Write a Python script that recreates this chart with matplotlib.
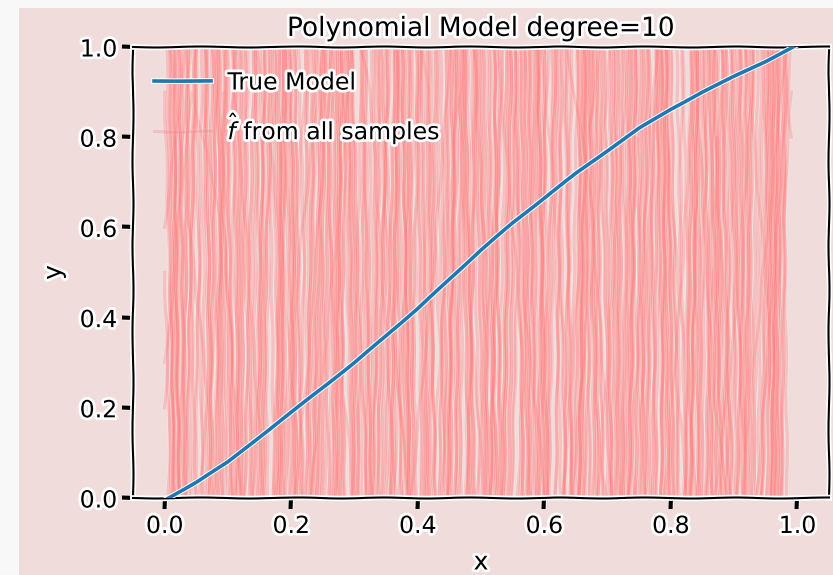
import numpy as np
import matplotlib
matplotlib.use("Agg")
import matplotlib.pyplot as plt
from matplotlib.patches import Rectangle
import matplotlib.patheffects as pe

# ---------------- data ----------------
true_x = [0.0, 0.05, 0.1, 0.15, 0.2, 0.25, 0.3, 0.35, 0.4, 0.45, 0.5,
          0.55, 0.6, 0.65, 0.7, 0.75, 0.8, 0.85, 0.9, 0.95, 1.0]
true_y = [-0.005, 0.035, 0.08, 0.135, 0.19, 0.245, 0.30, 0.36, 0.42, 0.485, 0.55,
          0.61, 0.665, 0.72, 0.77, 0.82, 0.862, 0.90, 0.935, 0.968, 1.005]

# sample fits: values at a common x grid, each fit read with its own small x shift
red_x = np.linspace(0.0, 0.99, 21)
red_shift = [0.0, 0.012, -0.012, 0.024, -0.024, 0.006, -0.018, 0.018, -0.006, 0.021,
             -0.021, 0.003, 0.015, -0.015, 0.009, -0.009, 0.024, -0.003, 0.012, -0.024,
             0.0, 0.018, -0.012, 0.006, -0.018, 0.021, -0.006, 0.003, -0.021, 0.015]
red_curves = [
    [3.2,-1.8,2.5,-2.9,1.7,-0.9,2.8,-1.6,3.5,-2.2,1.4,-2.6,2.1,-1.1,3.0,-2.4,1.8,-3.1,2.6,-1.3,4.2],
    [-2.5,3.1,-1.2,2.4,-2.8,1.9,-1.7,2.2,-0.7,3.3,-2.1,1.6,-3.0,2.7,-1.5,2.0,-2.6,3.4,-1.0,2.9,-3.6],
    [1.9,-2.7,3.6,-1.4,2.0,-2.3,1.5,-3.2,2.6,-1.8,2.9,-0.8,1.7,-2.5,3.1,-1.7,2.4,-1.2,3.2,-2.8,2.3],
    [-1.6,2.2,-3.3,1.8,-1.1,3.0,-2.4,1.3,-2.7,2.1,-1.5,3.5,-1.9,1.5,-2.2,3.3,-0.9,2.5,-2.3,1.7,-2.9],
    [4.5,-0.6,1.2,2.9,-2.1,-0.4,2.3,-1.9,1.6,-2.8,2.5,0.2,-1.7,2.6,-2.9,1.1,-1.4,2.8,-2.0,3.1,-1.8],
    [-3.4,1.4,-0.5,-2.2,2.7,-1.3,1.8,-2.6,0.9,2.4,-1.1,2.9,-2.3,-0.3,1.9,-2.7,2.2,-0.7,1.5,-2.4,3.8],
    [2.6,-3.0,1.1,-1.7,3.4,-2.5,0.8,2.1,-1.4,-2.9,1.7,-0.6,2.8,-1.8,1.3,-2.2,3.3,-2.8,0.6,2.7,-2.1],
    [-0.8,1.7,-2.4,3.1,-0.9,1.6,-3.1,2.7,-1.3,1.9,-2.4,1.0,3.2,-1.6,-2.3,2.5,-1.3,1.9,-3.0,2.2,1.2],
    [0.3,0.9,0.6,-0.4,0.2,1.4,0.8,-0.5,0.7,1.6,0.3,-0.6,0.9,1.5,0.1,-0.3,1.2,1.7,0.4,-0.8,1.3],
    [1.1,0.2,-0.5,0.8,1.5,0.4,-0.2,1.3,0.9,-0.6,0.5,1.4,0.7,-0.4,0.6,1.6,0.2,-0.5,1.1,0.3,0.9],
    [-2.2,2.8,-1.5,0.7,3.6,-2.0,2.3,-0.8,-2.5,1.6,3.0,-1.4,2.1,-3.2,1.4,-0.5,2.6,-1.9,2.9,-2.7,1.6],
    [3.8,-2.4,1.6,-3.5,2.0,0.5,-1.8,3.1,-2.9,1.2,-1.6,2.4,-0.4,3.5,-1.2,2.7,-3.0,1.3,-1.7,2.0,-3.9],
    [-1.2,3.3,-2.6,1.4,-0.6,2.5,-3.3,1.9,2.4,-1.3,2.2,-2.9,1.5,-1.6,-0.4,3.2,-2.1,1.8,-0.9,3.5,-2.6],
    [2.1,-1.0,-2.8,2.3,-1.5,3.2,-1.1,-0.3,2.9,-2.6,1.5,-1.3,3.1,-2.0,2.2,-1.6,1.0,-2.5,3.0,-1.1,2.8],
    [0.5,-2.1,1.8,-1.3,2.6,-2.7,3.4,-1.6,1.1,-3.4,2.6,-2.2,0.9,1.8,-2.8,2.0,-1.7,2.6,-2.2,1.4,-1.5],
    [-3.0,1.2,2.7,-1.9,1.0,-1.7,1.6,-2.4,3.3,-0.7,-2.0,2.8,-1.5,2.3,-1.3,3.0,-2.4,-0.6,2.3,-2.9,3.1],
    [1.5,-3.2,2.2,-0.8,-2.4,2.9,-2.8,1.1,-1.9,2.7,-1.2,1.8,-2.7,0.6,2.5,-2.1,3.6,-1.6,1.2,-1.9,2.5],
    [-0.4,2.6,-1.8,3.0,-2.3,1.3,-0.7,2.6,-1.5,2.0,-2.9,3.3,-1.0,2.2,-2.6,1.5,-2.2,3.1,-1.4,2.4,-1.2],
    [0.6,1.3,0.2,-0.7,0.5,1.1,1.6,0.4,-0.3,0.8,1.3,0.5,-0.6,0.2,1.0,1.5,0.6,-0.2,0.4,1.4,0.8],
    [0.9,-0.4,0.3,1.2,0.7,-0.1,0.6,1.5,0.2,-0.5,1.0,1.6,0.4,-0.2,0.8,1.3,-0.4,0.5,1.6,0.1,1.1],
    [2.9,-1.3,3.1,-2.5,1.5,-2.0,2.4,-3.0,1.8,-0.9,2.5,-1.8,3.4,-0.8,1.2,-2.9,2.1,-1.1,2.7,-2.3,3.6],
    [-1.9,2.0,-0.6,2.6,-3.1,2.2,-1.4,3.2,-2.2,1.1,-1.9,2.2,-2.5,1.7,-2.0,2.4,-0.8,2.2,-3.2,1.5,-2.4],
    [3.4,-2.6,1.3,-1.1,2.2,-3.4,1.4,-0.6,2.0,-1.6,3.4,-2.4,1.3,-1.4,2.8,-1.0,2.6,-2.7,1.9,-0.7,2.0],
    [-2.7,1.6,-3.1,2.1,-1.6,2.4,-2.2,2.9,-1.2,2.3,-0.7,1.9,-1.8,3.0,-1.9,1.7,-3.1,1.4,-2.5,2.6,-3.0],
    [1.3,-1.5,2.9,-2.2,3.3,-1.2,2.0,-2.1,0.4,2.8,-2.4,0.7,2.4,-2.3,1.6,-2.6,1.9,-1.8,0.8,-2.6,3.3],
    [-0.7,3.5,-1.1,1.5,-2.6,3.1,-0.9,1.7,-2.6,1.4,-1.4,2.7,-1.2,2.5,-0.6,2.9,-1.5,2.6,-1.5,3.3,-0.9],
    [2.4,-2.0,0.9,-2.6,1.2,-1.0,3.0,-1.3,2.5,-2.3,2.0,-3.1,1.1,-1.9,3.4,-1.4,1.5,-2.4,3.5,-1.6,2.2],
    [-1.4,1.9,-2.0,3.4,-0.8,2.6,-2.7,2.0,-0.9,3.1,-1.7,1.4,-2.1,2.9,-2.5,0.8,-2.0,1.6,-0.5,1.9,-2.2],
    [0.2,0.8,1.5,0.6,-0.4,0.3,1.2,0.9,-0.2,0.5,1.4,0.1,-0.7,1.1,0.7,-0.3,0.9,1.4,0.2,-0.3,1.0],
    [3.0,-0.9,2.0,-1.9,2.9,-2.2,1.0,-2.3,3.0,-1.0,1.8,-2.0,2.7,-1.1,1.9,-3.3,2.8,-0.8,2.0,-2.5,1.9],
]

ticks = [0.0, 0.2, 0.4, 0.6, 0.8, 1.0]
tick_labels = ["0.0", "0.2", "0.4", "0.6", "0.8", "1.0"]
title = "Polynomial Model degree=10"

# ---------------- plot ----------------
plt.xkcd()
plt.rcParams['font.family'] = ['DejaVu Sans']

W, H = 833, 575
BG = '#f1dcdc'
fig = plt.figure(figsize=(W / 100, H / 100), dpi=100, facecolor='#f8f8f8')
fig.patch.set_sketch_params(None)
fig.patch.set_path_effects([])
bgrect = Rectangle((19 / W, 0), 1 - 19 / W, (H - 8) / H, transform=fig.transFigure,
                   facecolor=BG, edgecolor='none', linewidth=0, zorder=-10)
bgrect.set_path_effects([])
bgrect.set_sketch_params(None)
fig.patches.append(bgrect)

ax = fig.add_axes([133 / W, 77 / H, 696 / W, 451 / H])
ax.set_facecolor(BG)
ax.patch.set_sketch_params(None)
ax.patch.set_path_effects([])
for sp in ax.spines.values():
    sp.set_sketch_params(scale=0.5, length=100, randomness=2)

red_pe = [pe.withStroke(linewidth=3.6, foreground='w', alpha=0.14)]
for i, (row, sh) in enumerate(zip(red_curves, red_shift)):
    xs = red_x.copy()
    xs[1:-1] = xs[1:-1] + sh
    ln, = ax.plot(xs, row, color='#ff3838', alpha=0.19, lw=2.4,
                  label=r'$\hat{f}$ from all samples' if i == 0 else None, zorder=2)
    ln.set_path_effects(red_pe)
    ln.set_sketch_params(scale=0.7, length=100, randomness=2)

blue, = ax.plot(true_x, true_y, color='#1f77b4', lw=2.6, label='True Model', zorder=5)
blue.set_sketch_params(scale=0.15, length=100, randomness=2)

ax.set_xlim(-0.05, 1.05)
ax.set_ylim(0.0, 1.0)
ax.set_xticks(ticks)
ax.set_xticklabels(tick_labels)
ax.set_yticks(ticks)
ax.set_yticklabels(tick_labels)
ax.tick_params(labelsize=17)
ax.set_title(title, fontsize=19, pad=8)
ax.set_xlabel('x', fontsize=18, labelpad=9)
ax.set_ylabel('y', fontsize=18, labelpad=10)

handles, labels = ax.get_legend_handles_labels()
order = [labels.index('True Model'), labels.index(r'$\hat{f}$ from all samples')]
ax.legend([handles[k] for k in order], [labels[k] for k in order],
          loc='upper left', fontsize=17, frameon=False, handlelength=2.4,
          handletextpad=0.7, labelspacing=0.65, bbox_to_anchor=(0.0, 0.995))

fig.savefig('out.png', dpi=100, facecolor=fig.get_facecolor())
